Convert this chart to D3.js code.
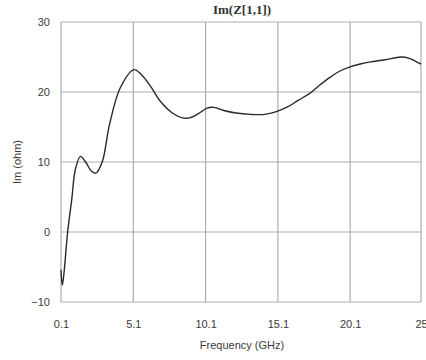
<!DOCTYPE html>
<html>
<head>
<meta charset="utf-8">
<script src="https://cdn.jsdelivr.net/npm/d3@7"></script>
<style>
  body { margin: 0; background: #fff; }
  svg { display: block; }
</style>
</head>
<body>
<svg id="chart"></svg>
<script>
const width = 426;
const height = 360;
const margin = { top: 22, right: 5, bottom: 58, left: 61 };

// frequency (GHz) and Im(Z11) (ohm)
const freq = [0.1, 0.19, 0.3, 0.56, 0.84, 1.1, 1.45, 1.8, 2.2, 2.5, 2.95, 3.45, 4.2, 5.15,
  5.7, 6.3, 7.0, 7.8, 8.5, 9.0, 9.6, 10.2, 10.7, 11.3, 12.2, 13.2, 14.2, 15.0, 15.8, 16.5,
  17.3, 18.0, 18.7, 19.4, 20.1, 20.8, 21.5, 22.5, 23.6, 24.2, 24.6, 25.0];
const imZ = [-5.4, -7.6, -6.0, 0, 4.6, 9.0, 10.8, 10.0, 8.7, 8.4, 10.0, 15.3, 20.6, 23.2,
  22.4, 20.8, 18.6, 17.0, 16.3, 16.3, 16.9, 17.7, 17.8, 17.4, 17.0, 16.8, 16.8, 17.2, 17.9, 18.8,
  19.8, 21.0, 22.1, 23.0, 23.6, 24.0, 24.3, 24.6, 25.0, 24.8, 24.4, 24.0];

const xTicks = [0.1, 5.1, 10.1, 15.1, 20.1, 25];
const yTicks = [-10, 0, 10, 20, 30];

const data = freq.map((f, i) => ({ f: f, v: imZ[i] }));

const svg = d3.select("#chart").attr("width", width).attr("height", height);

const x = d3.scaleLinear().domain([0.1, 25]).range([margin.left, width - margin.right]);
const y = d3.scaleLinear().domain([-10, 30]).range([height - margin.bottom, margin.top]);

const gridColor = "#a9adb5";

// grid lines
svg.append("g")
  .selectAll("line")
  .data(xTicks)
  .enter()
  .append("line")
  .attr("x1", (d) => x(d)).attr("x2", (d) => x(d))
  .attr("y1", y(-10)).attr("y2", y(30))
  .attr("stroke", gridColor)
  .attr("stroke-width", 1.2);

svg.append("g")
  .selectAll("line")
  .data(yTicks)
  .enter()
  .append("line")
  .attr("x1", x(0.1)).attr("x2", x(25))
  .attr("y1", (d) => y(d)).attr("y2", (d) => y(d))
  .attr("stroke", gridColor)
  .attr("stroke-width", 1.2);

// axes (labels only)
const xAxis = d3.axisBottom(x).tickValues(xTicks).tickSize(0).tickPadding(18)
  .tickFormat((d) => String(d));
svg.append("g")
  .attr("transform", `translate(0, ${y(-10)})`)
  .call(xAxis)
  .call((g) => g.select(".domain").remove());

const yAxis = d3.axisLeft(y).tickValues(yTicks).tickSize(0).tickPadding(11);
svg.append("g")
  .attr("transform", `translate(${x(0.1)}, 0)`)
  .call(yAxis)
  .call((g) => g.select(".domain").remove());

svg.selectAll(".tick text")
  .attr("font-family", "Liberation Sans, Arial, sans-serif")
  .attr("font-size", 11)
  .attr("fill", "#3a3a3a");

// curve
const line = d3.line()
  .x((d) => x(d.f))
  .y((d) => y(d.v))
  .curve(d3.curveCatmullRom.alpha(0.5));

svg.append("path")
  .datum(data)
  .attr("d", line)
  .attr("fill", "none")
  .attr("stroke", "#2a2a2a")
  .attr("stroke-width", 1.4);

// title and axis titles
svg.append("text")
  .attr("x", 242)
  .attr("y", 14)
  .attr("text-anchor", "middle")
  .attr("font-family", "Liberation Serif, Times New Roman, serif")
  .attr("font-weight", "bold")
  .attr("font-size", 13)
  .attr("fill", "#333")
  .text("Im(Z[1,1])");

svg.append("text")
  .attr("x", 242)
  .attr("y", 349)
  .attr("text-anchor", "middle")
  .attr("font-family", "Liberation Sans, Arial, sans-serif")
  .attr("font-size", 11)
  .attr("fill", "#3a3a3a")
  .text("Frequency (GHz)");

svg.append("text")
  .attr("transform", `translate(21, ${(y(-10) + y(30)) / 2}) rotate(-90)`)
  .attr("text-anchor", "middle")
  .attr("font-family", "Liberation Sans, Arial, sans-serif")
  .attr("font-size", 11)
  .attr("fill", "#3a3a3a")
  .text("Im (ohm)");
</script>
</body>
</html>
